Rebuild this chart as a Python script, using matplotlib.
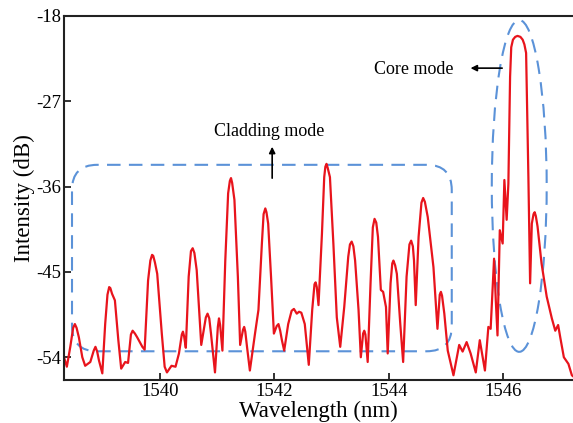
import numpy as np
import matplotlib.pyplot as plt
from matplotlib.patches import FancyBboxPatch, Ellipse

plt.rcParams['font.family'] = ['Liberation Serif', 'DejaVu Serif']
plt.rcParams['axes.unicode_minus'] = False

# spectrum (wavelength in nm, intensity in dB)
wl = [1538.32, 1538.37, 1538.43, 1538.48, 1538.51, 1538.54, 1538.58, 1538.64, 1538.69, 1538.78,
      1538.84, 1538.87, 1538.90, 1538.93, 1538.99, 1539.04, 1539.08, 1539.11, 1539.13, 1539.16,
      1539.21, 1539.27, 1539.32, 1539.39, 1539.44, 1539.49, 1539.52, 1539.56, 1539.60, 1539.69,
      1539.73, 1539.79, 1539.83, 1539.86, 1539.88, 1539.91, 1539.95, 1540.03, 1540.08, 1540.12,
      1540.20, 1540.27, 1540.33, 1540.38, 1540.40, 1540.42, 1540.45, 1540.50, 1540.54, 1540.57,
      1540.60, 1540.64, 1540.72, 1540.80, 1540.83, 1540.86, 1540.89, 1540.96, 1541.01, 1541.03,
      1541.05, 1541.09, 1541.14, 1541.19, 1541.22, 1541.24, 1541.26, 1541.30, 1541.36, 1541.40,
      1541.45, 1541.47, 1541.49, 1541.52, 1541.57, 1541.66, 1541.72, 1541.78, 1541.81, 1541.84,
      1541.86, 1541.89, 1541.94, 1541.99, 1542.04, 1542.07, 1542.10, 1542.13, 1542.17, 1542.24,
      1542.30, 1542.34, 1542.39, 1542.43, 1542.47, 1542.53, 1542.60, 1542.66, 1542.70, 1542.72,
      1542.74, 1542.77, 1542.83, 1542.87, 1542.89, 1542.91, 1542.93, 1542.97, 1543.03, 1543.09,
      1543.15, 1543.22, 1543.29, 1543.32, 1543.35, 1543.38, 1543.41, 1543.47, 1543.51, 1543.55,
      1543.57, 1543.59, 1543.63, 1543.68, 1543.72, 1543.75, 1543.78, 1543.81, 1543.86, 1543.90,
      1543.95, 1543.98, 1544.03, 1544.06, 1544.08, 1544.11, 1544.14, 1544.20, 1544.25, 1544.31,
      1544.36, 1544.39, 1544.42, 1544.44, 1544.47, 1544.52, 1544.57, 1544.60, 1544.63, 1544.68,
      1544.78, 1544.85, 1544.89, 1544.91, 1544.93, 1544.97, 1545.03, 1545.13, 1545.19, 1545.23,
      1545.29, 1545.36, 1545.43, 1545.48, 1545.52, 1545.59, 1545.64, 1545.68, 1545.74, 1545.78,
      1545.84, 1545.87, 1545.90, 1545.94, 1545.99, 1546.02, 1546.06, 1546.09, 1546.12, 1546.14,
      1546.17, 1546.21, 1546.25, 1546.30, 1546.34, 1546.37, 1546.40, 1546.44, 1546.47, 1546.50,
      1546.53, 1546.55, 1546.57, 1546.60, 1546.67, 1546.76, 1546.85, 1546.91, 1546.96, 1547.00,
      1547.06, 1547.14, 1547.20, 1547.22]
db = [-54.0, -55.0, -52.9, -50.9, -50.5, -50.9, -51.9, -54.0, -54.9, -54.5,
      -53.3, -52.9, -53.4, -54.3, -55.7, -50.5, -47.4, -46.6, -46.7, -47.3,
      -48.0, -52.2, -55.2, -54.5, -54.6, -51.6, -51.2, -51.5, -51.9, -52.9,
      -53.2, -45.9, -43.8, -43.2, -43.3, -44.0, -45.2, -51.5, -55.0, -55.6,
      -54.9, -55.0, -53.6, -51.6, -51.3, -51.8, -53.0, -45.5, -42.8, -42.5,
      -43.0, -44.8, -52.7, -49.8, -49.4, -49.9, -51.5, -55.6, -50.8, -49.9,
      -50.6, -53.3, -43.8, -36.7, -35.4, -35.1, -35.6, -37.4, -45.5, -52.7,
      -51.1, -50.8, -51.3, -52.9, -55.4, -51.5, -49.0, -42.0, -38.9, -38.3,
      -38.7, -39.9, -45.5, -51.5, -50.7, -50.5, -51.2, -52.2, -53.3, -50.5,
      -49.1, -48.9, -49.4, -49.2, -49.3, -50.5, -54.8, -49.0, -46.3, -46.1,
      -46.6, -48.5, -41.0, -35.0, -33.9, -33.6, -34.0, -35.0, -42.0, -49.8,
      -52.9, -48.7, -43.4, -42.1, -41.8, -42.3, -43.8, -49.0, -54.0, -51.5,
      -51.2, -51.6, -54.5, -46.2, -40.3, -39.4, -39.8, -41.3, -46.9, -47.1,
      -48.7, -53.6, -46.2, -44.1, -43.8, -44.3, -45.2, -50.5, -54.5, -45.5,
      -42.1, -41.7, -42.3, -43.8, -48.5, -41.3, -37.7, -37.2, -37.6, -39.2,
      -44.5, -51.0, -47.4, -47.1, -47.5, -49.4, -53.3, -55.9, -54.0, -52.7,
      -53.4, -52.4, -53.6, -54.7, -55.6, -52.2, -54.0, -55.4, -50.8, -51.0,
      -43.6, -48.0, -51.7, -40.6, -42.0, -35.3, -39.5, -35.7, -24.4, -21.3,
      -20.5, -20.2, -20.1, -20.2, -20.5, -21.0, -21.9, -35.0, -46.2, -39.9,
      -38.9, -38.7, -39.1, -40.2, -44.1, -47.6, -49.9, -51.2, -50.6, -52.0,
      -54.0, -54.7, -55.9, -56.0]

xticks = [1540, 1542, 1544, 1546]
yticks = [-18, -27, -36, -45, -54]

fig = plt.figure(figsize=(5.73, 4.23), dpi=100)
ax = fig.add_axes([64 / 573, 43 / 423, 509 / 573, 364 / 423])

ax.plot(wl, db, color='#e8141c', lw=1.6, solid_joinstyle='round')

ax.set_xlim(1538.32, 1547.22)
ax.set_ylim(-56.4, -18)
ax.set_xticks(xticks)
ax.set_yticks(yticks)
ax.tick_params(direction='in', length=5, width=1.3, labelsize=13.5, pad=2, color='#222222')
for s in ['left', 'bottom', 'top']:
    ax.spines[s].set_linewidth(1.5)
    ax.spines[s].set_color('#222222')
ax.spines['right'].set_visible(False)

ax.set_xlabel('Wavelength (nm)', fontsize=16.5, labelpad=1)
ax.set_ylabel('Intensity (dB)', fontsize=16.5, labelpad=1)

blue = '#5b92d8'
dash = (0, (6.5, 4))
# cladding mode box
asp = 57.2 / 9.47
box = FancyBboxPatch((1538.46, -53.37), 1545.10 - 1538.46, -33.7 + 53.37,
                     boxstyle='round,pad=0,rounding_size=0.44', mutation_aspect=asp,
                     fill=False, ec=blue, lw=1.5, ls=dash)
ax.add_patch(box)
# core mode ellipse
ax.add_patch(Ellipse((1546.28, -35.93), 0.96, 35.0, fill=False, ec=blue, lw=1.5, ls=dash))

ax.annotate('', xy=(1545.38, -23.5), xytext=(1546.03, -23.5),
            arrowprops=dict(arrowstyle='-|>', color='black', lw=1.2, mutation_scale=9))
ax.text(1544.44, -23.6, 'Core mode', fontsize=13, ha='center', va='center')

ax.annotate('', xy=(1541.96, -31.5), xytext=(1541.96, -35.4),
            arrowprops=dict(arrowstyle='-|>', color='black', lw=1.2, mutation_scale=9))
ax.text(1541.91, -30.2, 'Cladding mode', fontsize=13, ha='center', va='center')

fig.savefig('out.png', dpi=100)
